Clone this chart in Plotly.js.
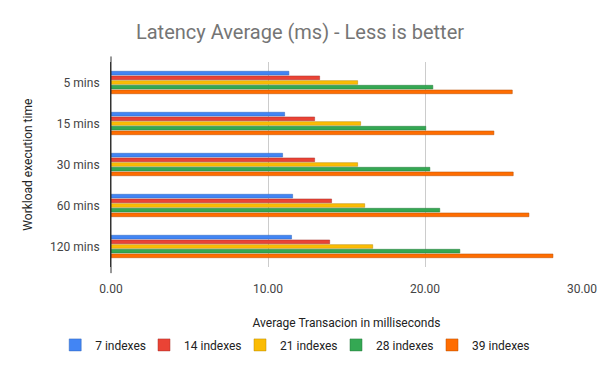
<!DOCTYPE html>
<html>
<head>
<meta charset="utf-8">
<script src="https://cdn.plot.ly/plotly-3.0.1.min.js"></script>
<style>html,body{margin:0;padding:0;background:#fff;}#chart{width:600px;height:371px;}</style>
</head>
<body>
<div id="chart"></div>
<script>
const categories = ["5 mins", "15 mins", "30 mins", "60 mins", "120 mins"];
const seriesNames = ["7 indexes", "14 indexes", "21 indexes", "28 indexes", "39 indexes"];
const idx7  = [11.33, 11.06, 10.93, 11.57, 11.50];
const idx14 = [13.29, 12.97, 12.97, 14.05, 13.93];
const idx21 = [15.71, 15.90, 15.71, 16.16, 16.67];
const idx28 = [20.50, 20.05, 20.31, 20.94, 22.22];
const idx39 = [25.56, 24.39, 25.62, 26.62, 28.15];
const xTicks = [0, 10, 20, 30];

const values = [idx7, idx14, idx21, idx28, idx39];
const colors = ["#4285F4", "#EA4335", "#FBBC04", "#34A853", "#FF6D01"];
const edge = ["#2f64b8", "#a8302a", "#b88a03", "#267a3c", "#b84f01"];
const legendIds = ["legend", "legend2", "legend3", "legend4", "legend5"];
const legendLeft = [0.092, 0.240, 0.400, 0.560, 0.720];

const traces = values.map((v, i) => ({
  type: "bar",
  orientation: "h",
  name: seriesNames[i],
  y: categories,
  x: v,
  legend: legendIds[i],
  marker: {color: colors[i], line: {color: edge[i], width: 0.5}},
  hoverinfo: "x+name"
}));

const layout = {
  width: 600, height: 371,
  margin: {l: 111, r: 18, t: 62, b: 104, pad: 0, autoexpand: false},
  paper_bgcolor: "#fff", plot_bgcolor: "#fff",
  font: {family: "Roboto, Arial, sans-serif", size: 12, color: "#222"},
  title: {text: "Latency Average (ms) - Less is better", x: 0.5, xanchor: "center", y: 0.915, yanchor: "middle",
          font: {size: 20, color: "#757575", family: "Roboto, Arial, sans-serif"}},
  barmode: "group",
  bargap: 0.43,
  bargroupgap: 0.2,
  xaxis: {range: [0, 30], tickvals: xTicks, tickformat: ".2f", showgrid: true, gridcolor: "#cccccc",
          zeroline: false, showline: false, ticks: "", ticklabelstandoff: 13, tickfont: {size: 12, color: "#444"}, automargin: false,
          title: {text: "Average Transacion in milliseconds", font: {size: 12, color: "#222"}, standoff: 23}},
  yaxis: {autorange: "reversed", showgrid: false, zeroline: false, showline: true, linecolor: "#333", linewidth: 1,
          ticks: "", ticklabelstandoff: 8, tickfont: {size: 12, color: "#444"}, automargin: false},
  annotations: [{text: "Workload execution time", xref: "paper", yref: "paper", x: -0.178, y: 0.5,
                 xanchor: "center", yanchor: "middle", textangle: -90, showarrow: false,
                 font: {size: 12, color: "#222"}}],
  shapes: [{type: "line", xref: "paper", yref: "paper", x0: 0, x1: 0, y0: -0.03, y1: 1.027,
            line: {color: "#333", width: 1}, layer: "above"}],
  showlegend: true
};

legendIds.forEach((id, i) => {
  layout[id] = {orientation: "h", xref: "container", xanchor: "left", x: legendLeft[i],
                y: -0.38, yanchor: "middle", font: {size: 12, color: "#222"}, itemwidth: 30,
                bgcolor: "rgba(0,0,0,0)"};
});

Plotly.newPlot("chart", traces, layout, {displayModeBar: false, staticPlot: true});
</script>
</body>
</html>
